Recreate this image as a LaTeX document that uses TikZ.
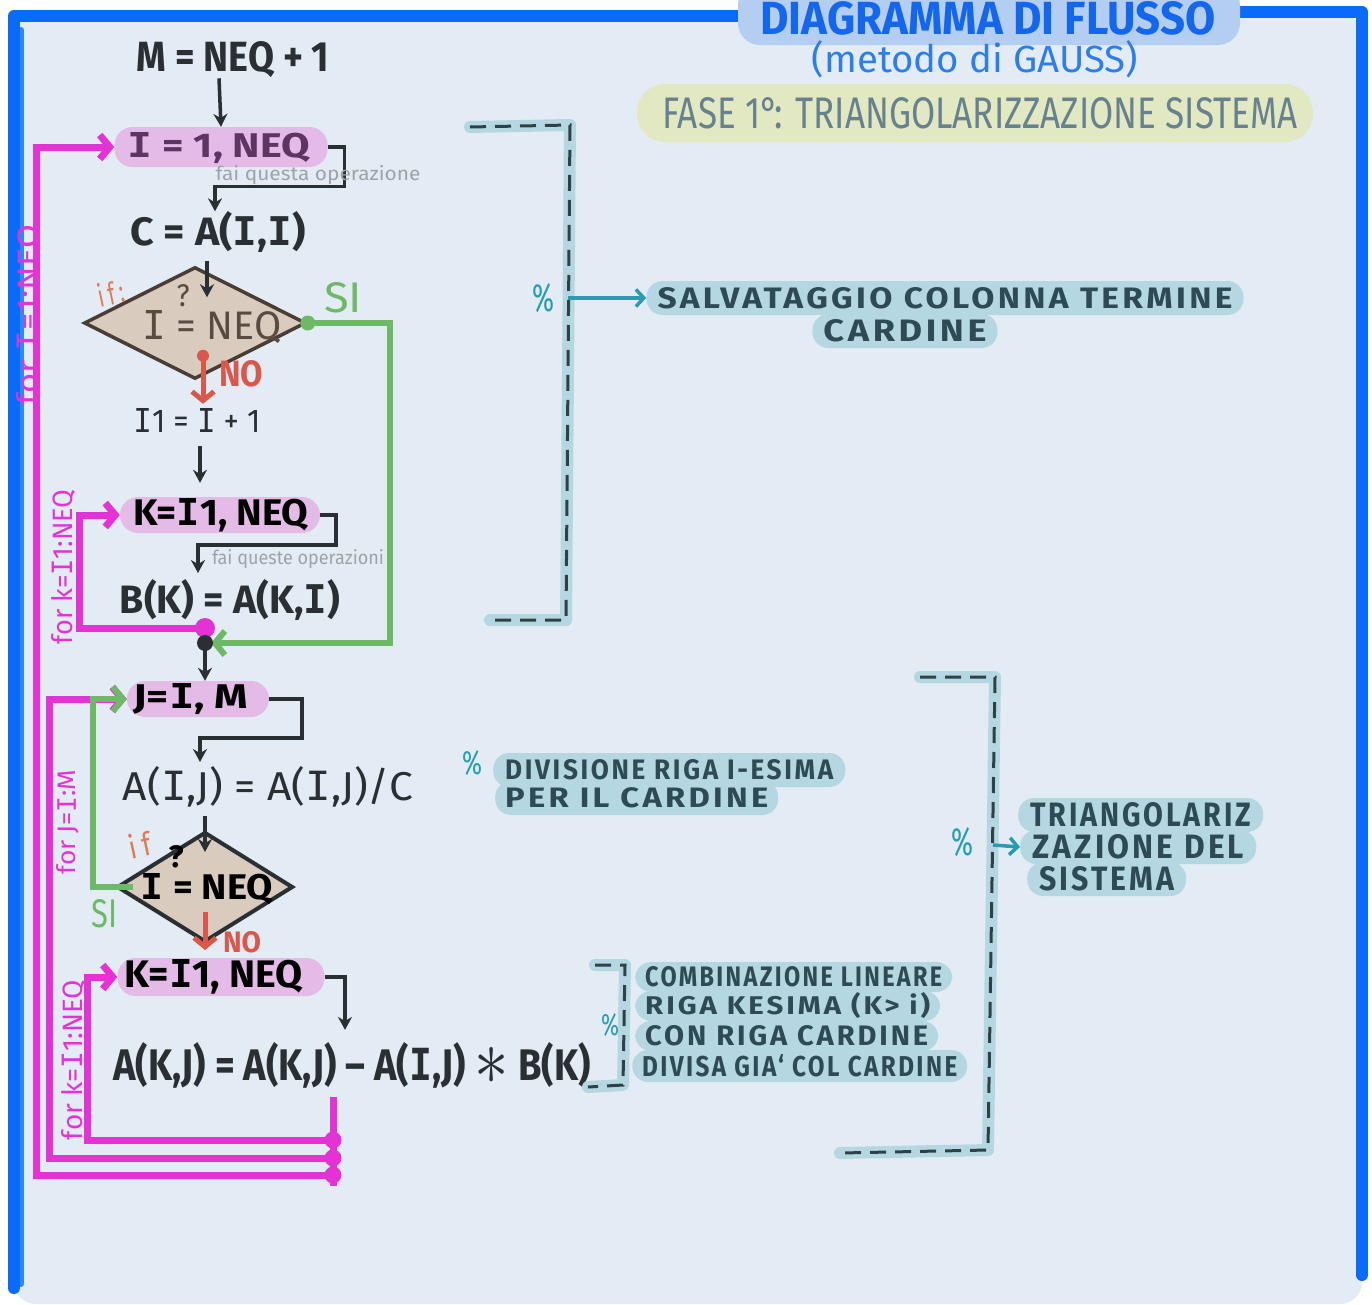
\documentclass[tikz,border=0pt]{standalone}
\usepackage{fontspec}
\usepackage{graphicx}
\setmainfont{Fira Sans}
\newfontfamily\monof{DejaVu Sans Mono}
\usetikzlibrary{shapes.geometric,arrows.meta,calc}
\definecolor{bgc}{HTML}{E3ECF4}
\definecolor{bordc}{HTML}{0A6BFB}
\definecolor{bordl}{HTML}{3388F0}
\definecolor{titlebg}{HTML}{B4CEF2}
\definecolor{titlet}{HTML}{1467EC}
\definecolor{subt}{HTML}{2D7EE8}
\definecolor{fasebg}{HTML}{E2E9C2}
\definecolor{faset}{HTML}{67828E}
\definecolor{ink}{HTML}{2A2F34}
\definecolor{pillc}{HTML}{E4BAE7}
\definecolor{pillt}{HTML}{5E3562}
\definecolor{diac}{HTML}{D9CBBE}
\definecolor{diab}{HTML}{4A3D34}
\definecolor{diat}{HTML}{5A4A42}
\definecolor{mag}{HTML}{E333D4}
\definecolor{grn}{HTML}{6DB967}
\definecolor{redc}{HTML}{D8594C}
\definecolor{orangec}{HTML}{E07A55}
\definecolor{tealc}{HTML}{2A9CB1}
\definecolor{notec}{HTML}{B5D7E2}
\definecolor{notet}{HTML}{2E4A54}
\definecolor{brkd}{HTML}{2E4148}
\definecolor{grayl}{HTML}{9EA3A7}
\newcommand\fitt[3]{\resizebox{#1pt}{#2pt}{#3}}
\newcommand\II{{\monof I}}
\newcommand\lsp{\addfontfeature{LetterSpace=10}}
\begin{document}
\begin{tikzpicture}[x=1pt,y=-1pt,
  arr/.style={draw=ink, line width=3.5pt, -{Stealth[length=13pt,width=14pt]}},
  magline/.style={draw=mag, line width=7pt},
  magarr/.style={magline, -{Straight Barb[length=10pt,width=24pt]}},
  grnarr/.style={draw=grn, line width=6pt, -{Straight Barb[length=10pt,width=24pt]}},
  redarr/.style={draw=redc, line width=5pt, -{Straight Barb[length=9pt,width=22pt]}},
  pill/.style={fill=pillc, rounded corners=18pt, inner sep=0pt},
  dia/.style={diamond, fill=diac, inner sep=0pt},
  note/.style={fill=notec, text=notet, rounded corners=16pt, inner xsep=11pt, inner ysep=0pt, minimum height=34pt, anchor=west},
  pct/.style={text=tealc, inner sep=0pt},
  tarr/.style={draw=tealc, line width=3.5pt, -{Straight Barb[length=8pt,width=17pt]}},
  brk/.style={draw=brkd, line width=3pt, dash pattern=on 16pt off 9pt, preaction={draw=notec, line width=12pt, line cap=round, line join=round, solid}},
  lbl/.style={inner sep=0pt},
  maglbl/.style={inner sep=0pt, text=mag, rotate=90}
]
\useasboundingbox (0,0) rectangle (1372,1304);
\clip (0,0) rectangle (1372,1304);
\fill[white] (0,0) rectangle (1372,1304);
\fill[bgc, rounded corners=22pt] (14,14) rectangle (1362,1304);
% border
\draw[bordl, line width=6pt, line cap=round] (21,30) -- (21,1284);
\draw[bordc, line width=12pt, line cap=round, line join=round] (14,1288) -- (14,16) -- (745,16);
\draw[bordc, line width=12pt, line cap=round, line join=round] (1240,12) -- (1362,12) -- (1362,1275);

% title
\node[fill=titlebg, rounded corners=22pt, minimum width=502pt, minimum height=62pt, inner sep=0pt] (titlebox) at (989,14) {};
\node[lbl, text=titlet] (title) at (988,18) {\fitt{455}{33}{\bfseries DIAGRAMMA DI FLUSSO}};
\node[lbl, text=subt] (sub) at (975,59) {\fitt{326}{32}{(metodo di GAUSS)}};
\node[fill=fasebg, rounded corners=28pt, minimum width=676pt, minimum height=58pt, inner sep=0pt] (fasebox) at (975,113) {};
\node[lbl, text=faset] (fase) at (980,113) {\fitt{635}{31}{FASE 1°: TRIANGOLARIZZAZIONE SISTEMA}};

% ---- flowchart ----
\node[lbl, text=ink] (m) at (233,60) {\fitt{193}{30}{\bfseries M = NEQ + 1}};
\node[pill, minimum width=213pt, minimum height=40pt] (loopI) at (221,147) {};
\node[lbl, text=pillt] (loopIt) at (219,148) {\fitt{182}{25}{\bfseries \II\ = 1, NEQ}};
\draw[arr] (m.south -| loopIt.north) -- (loopI.north);

\node[lbl, text=ink] (c) at (218,232) {\fitt{175}{34}{\bfseries C = A(\II,\II)}};
\draw[arr] (loopI.east) -- ++(17,0) |- ($(c.north)+(-3,-25)$) -- ($(c.north)+(-3,0)$);
\node[lbl, text=grayl] (fai1) at (318,175) {\fitt{205}{15}{fai questa operazione}};

\node[dia, draw=diab, line width=3.5pt, minimum width=222pt, minimum height=112pt] (d1) at (195,323) {};
\node[lbl, text=diat] (d1t) at (212,327) {\fitt{139}{29}{\II\ = NEQ}};
\node[lbl, text=diat] (d1q) at (183,296) {\fitt{13}{22}{?}};
\draw[arr] ($(c.south)+(-11,8)$) -- ($(d1.north)+(12,32)$);
\node[lbl, text=orangec, rotate=12] (if1) at (111,293) {\fitt{26}{24}{i\kern2pt f\kern2pt:}};

\node[lbl, text=ink] (i1) at (197,420) {\fitt{127}{24}{\II1 = \II\ + 1}};
% SI
\coordinate (merge) at (205,643);
\draw[grnarr, shorten >=6pt] (d1.east) -- ++(82,0) |- (merge);
\fill[grn] (d1.east) circle (7.5pt);
\node[lbl, text=grn] (si1) at (343,298) {\fitt{38}{30}{SI}};
% NO
\draw[redarr] ($(d1.south)+(8,-25)$) -- ($(i1.north)+(6,-4)$);
\fill[redc] ($(d1.south)+(8,-25)$) circle (6pt);
\node[lbl, text=redc] (no1) at (241,374) {\fitt{44}{26}{\bfseries NO}};

\node[pill, minimum width=200pt, minimum height=36pt] (loopK1) at (220,515) {};
\node[lbl, text=black] (loopK1t) at (221,515) {\fitt{175}{27}{\bfseries K=\II1, NEQ}};
\draw[arr] ($(i1.south)+(3,14)$) -- ($(loopK1.north)+(-20,-14)$);

\node[lbl, text=ink] (bk) at (230,600) {\fitt{220}{34}{\bfseries B(K) = A(K,\II)}};
\coordinate (bkin) at (198,573);
\draw[arr] (loopK1.east) -- ++(16,0) |- ($(bkin)+(0,-28)$) -- (bkin);
\node[lbl, text=grayl] (fai2) at (298,559) {\fitt{172}{15}{fai queste operazioni}};

\coordinate (kend) at (205,628);
\draw[magarr] (kend) -| ($(loopK1.west)+(-40,0)$) -- (loopK1.west);
\fill[mag] (kend) circle (10pt);
\node[maglbl] (forK1) at (63,567) {\fitt{155}{21}{for k=\II1:NEQ}};

% merge to J loop
\node[pill, minimum width=142pt, minimum height=36pt] (loopJ) at (198,699) {};
\node[lbl, text=black] (loopJt) at (191,699) {\fitt{115}{25}{\bfseries J=\II, M}};
\draw[arr] (merge) -- (merge |- loopJ.north);
\fill[ink] (merge) circle (8pt);

\node[lbl, text=ink] (aij) at (268,787) {\fitt{290}{34}{A(\II,J) = A(\II,J)/C}};
\coordinate (aijin) at (200,762);
\draw[arr] (loopJ.east) -- ++(33,0) |- ($(aijin)+(0,-24)$) -- (aijin);

\node[dia, draw=ink, line width=4pt, minimum width=176pt, minimum height=110pt] (d2) at (205,887) {};
\node[lbl, text=black] (d2t) at (207,889) {\fitt{132}{26}{\bfseries \II\ = NEQ}};
\node[lbl, text=black] (d2q) at (176,857) {\fitt{15}{22}{\bfseries ?}};
\draw[arr] ($(aij.south -| d2.north)+(0,8)$) -- ($(d2.north)+(0,22)$);
\node[lbl, text=orangec, rotate=12] (if2) at (140,845) {\fitt{22}{25}{i\kern2pt f}};
\node[lbl, text=grn] (si2) at (105,914) {\fitt{26}{28}{SI}};
\draw[redarr] ($(d2.south)+(0,-32)$) -- ($(d2.south)+(0,6)$);
\node[lbl, text=redc] (no2) at (242,942) {\fitt{38}{21}{\bfseries NO}};

\node[pill, minimum width=207pt, minimum height=38pt] (loopK2) at (221,977) {};
\node[lbl, text=black] (loopK2t) at (214,977) {\fitt{178}{28}{\bfseries K=\II1, NEQ}};

\node[lbl, text=ink] (akj) at (352,1065) {\fitt{477}{38}{\bfseries A(K,J) = A(K,J) -- A(\II,J) \raisebox{-1pt}{\scalebox{1.8}{$\ast$}} B(K)}};
\draw[arr] (loopK2.east) -| ($(akj.north)+(-7,-12)$);

% magenta loops
\coordinate (kv) at (333,1097);
\coordinate (kend2) at (333,1140);
\coordinate (jend) at (333,1158);
\coordinate (iend) at (333,1175);
\coordinate (vbot) at (333,1186);
\draw[magline] (kv) -- (vbot);
\draw[magarr] (kend2) -| ($(loopK2.west)+(-30,0)$) -- (loopK2.west);
\draw[magarr] (jend) -| ($(loopJ.west)+(-77,0)$) -- (loopJ.west);
\draw[magarr] (iend) -| ($(loopI.west)+(-78,0)$) -- (loopI.west);
\foreach \p in {kend2,jend,iend} \fill[mag] (\p) circle (8.5pt);
\draw[grnarr] ($(d2.west)+(18,0)$) -- ++(-40,0) |- (loopJ.west);
\node[maglbl] (forI) at (28,315) {\fitt{180}{21}{for \II=1:NEQ}};
\node[maglbl] (forJ) at (68,822) {\fitt{105}{19}{for J=\II:M}};
\node[maglbl] (forK2) at (73,1060) {\fitt{160}{21}{for k=\II1:NEQ}};

% ---- right side notes ----
\coordinate (bA1) at (470,127);
\coordinate (bA2) at (570,125);
\coordinate (bA3) at (566,620);
\coordinate (bA4) at (490,620);
\coordinate (bAm) at (568,298);
\draw[brk] (bA1) -- (bA2) -- (bA3) -- (bA4);
\node[pct] (pctA) at (543,298) {\fitt{22}{28}{\%}};
\node[note, anchor=center] (salv2) at (905,331) {\fitt{163}{22}{\bfseries\lsp CARDINE}};
\node[note, anchor=center] (salv1) at (945,298) {\fitt{575}{21}{\bfseries\lsp SALVATAGGIO COLONNA TERMINE}};
\draw[tarr] (bAm) -- (salv1.west);

\node[pct] (pctD) at (472,763) {\fitt{20}{24}{\%}};
\node[note, inner xsep=10pt] (div2) at (495,798) {\fitt{263}{20}{\bfseries\lsp PER IL CARDINE}};
\node[note, inner xsep=12pt] (div1) at (493,770) {\fitt{328}{20}{\bfseries\lsp DIVISIONE RIGA I-ESIMA}};

\coordinate (bB1) at (920,677);
\coordinate (bB2) at (995,677);
\coordinate (bB3) at (988,1150);
\coordinate (bB4) at (840,1153);
\coordinate (bBm) at (993,845);
\draw[brk] (bB1) -- (bB2) -- (bB3) -- (bB4);
\node[pct] (pctB) at (962,842) {\fitt{22}{28}{\%}};
\node[note, inner xsep=12pt] (tri1) at (1018,815) {\fitt{221}{24}{\bfseries\lsp TRIANGOLARIZ}};
\node[note, inner xsep=12pt] (tri3) at (1027,879) {\fitt{135}{24}{\bfseries\lsp SISTEMA}};
\node[note, inner xsep=12pt] (tri2) at (1020,847) {\fitt{212}{24}{\bfseries\lsp ZAZIONE DEL}};
\draw[tarr] (bBm) -- (tri2.west);

\coordinate (bC1) at (595,965);
\coordinate (bC2) at (625,965);
\coordinate (bC3) at (623,1085);
\coordinate (bC4) at (588,1087);
\draw[brk] (bC1) -- (bC2) -- (bC3) -- (bC4);
\node[pct] (pctC) at (610,1025) {\fitt{18}{22}{\%}};
\node[note, inner xsep=10pt, minimum height=30pt] (cb1) at (635,977) {\fitt{297}{20}{\bfseries\lsp COMBINAZIONE LINEARE}};
\node[note, inner xsep=10pt, minimum height=30pt] (cb2) at (635,1006) {\fitt{285}{22}{\bfseries\lsp RIGA KESIMA (K> i)}};
\node[note, inner xsep=10pt, minimum height=30pt] (cb3) at (635,1036) {\fitt{283}{20}{\bfseries\lsp CON RIGA CARDINE}};
\node[note, inner xsep=10pt, minimum height=32pt] (cb4) at (632,1066) {\fitt{315}{22}{\bfseries\lsp DIVISA GIA` COL CARDINE}};
\end{tikzpicture}
\end{document}
